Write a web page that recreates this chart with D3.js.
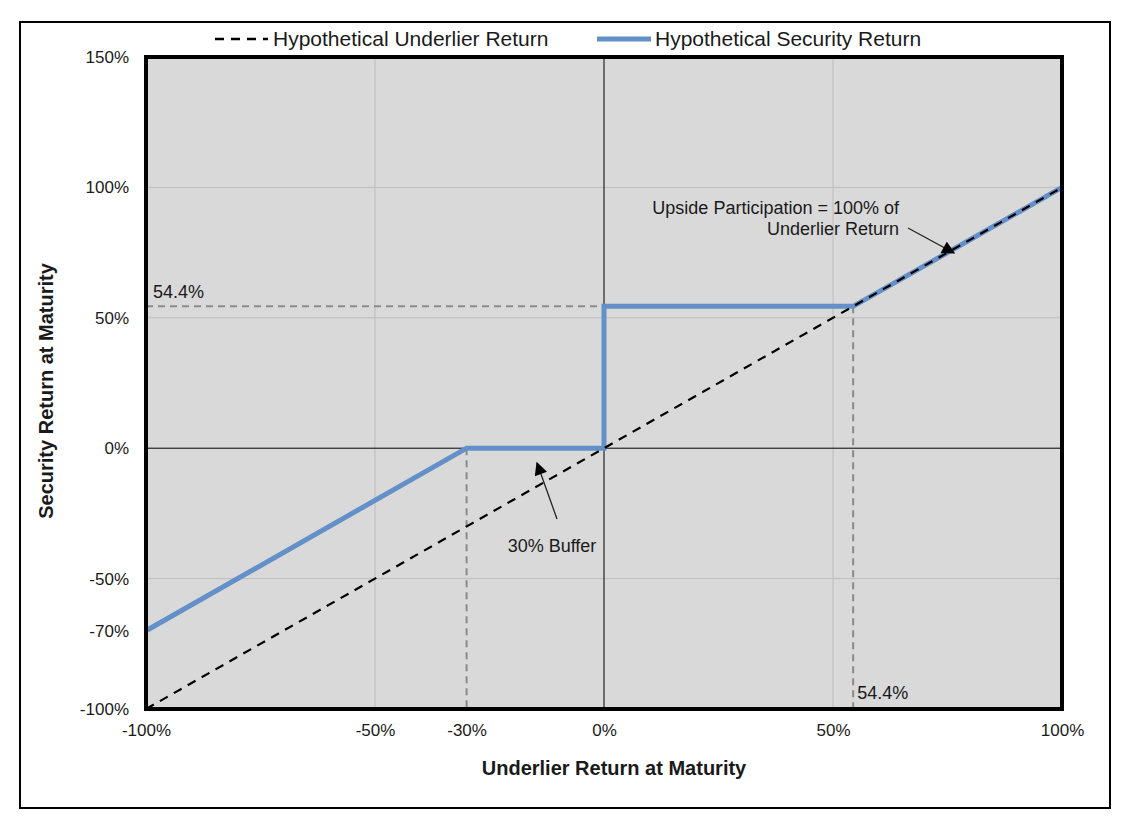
<!DOCTYPE html>
<html><head><meta charset="utf-8">
<script src="https://cdn.jsdelivr.net/npm/d3@7"></script>
<style>body{margin:0;background:#fff}svg{display:block}text{font-family:"Liberation Sans",Arial,sans-serif;fill:#1a1a1a}</style>
</head><body>
<script>
const xTicks = [-100, -50, -30, 0, 50, 100];
const yTicks = [-100, -70, -50, 0, 50, 100, 150];
const xGrid = [-50, 50];
const yGrid = [-50, 50, 100];
const underlierX = [-100, 100];
const underlierY = [-100, 100];
const securityX = [-100, -30, 0, 0, 54.4, 100];
const securityY = [-70, 0, 0, 54.4, 54.4, 100];
const capLevel = 54.4;
const bufferLevel = -30;
const seriesNames = ["Hypothetical Underlier Return", "Hypothetical Security Return"];

const W = 1125, H = 828;
const svg = d3.select("body").append("svg").attr("width", W).attr("height", H);
const L = 146, R = 1062, T = 57, B = 709;
const x = d3.scaleLinear().domain([-100, 100]).range([L, R]);
const y = d3.scaleLinear().domain([-100, 150]).range([B, T]);
const blue = "#6390C8";
const FONT = "Liberation Sans, Arial, sans-serif";

svg.append("rect").attr("x", 20).attr("y", 22).attr("width", 1090).attr("height", 786)
  .attr("fill", "#fff").attr("stroke", "#000").attr("stroke-width", 2);

svg.append("rect").attr("x", L).attr("y", T).attr("width", R - L).attr("height", B - T).attr("fill", "#d9d9d9");

const g = svg.append("g");
g.selectAll(".vg").data(xGrid).join("line").attr("x1", d => x(d)).attr("x2", d => x(d)).attr("y1", T).attr("y2", B)
  .attr("stroke", "#bdbdbd").attr("stroke-width", 1);
g.selectAll(".hg").data(yGrid).join("line").attr("y1", d => y(d)).attr("y2", d => y(d)).attr("x1", L).attr("x2", R)
  .attr("stroke", "#bdbdbd").attr("stroke-width", 1);
g.append("line").attr("x1", x(0)).attr("x2", x(0)).attr("y1", T).attr("y2", B).attr("stroke", "#000").attr("stroke-width", 1);
g.append("line").attr("y1", y(0)).attr("y2", y(0)).attr("x1", L).attr("x2", R).attr("stroke", "#000").attr("stroke-width", 1);

const refStyle = sel => sel.attr("stroke", "#8a8a8a").attr("stroke-width", 2).attr("stroke-dasharray", "7,5").attr("fill", "none");
g.append("line").attr("x1", x(-100)).attr("x2", x(0)).attr("y1", y(capLevel)).attr("y2", y(capLevel)).call(refStyle);
g.append("line").attr("x1", x(capLevel)).attr("x2", x(capLevel)).attr("y1", y(capLevel)).attr("y2", y(-100)).call(refStyle);
g.append("line").attr("x1", x(bufferLevel)).attr("x2", x(bufferLevel)).attr("y1", y(0)).attr("y2", y(-100)).call(refStyle);

const line = d3.line().x(d => x(d[0])).y(d => y(d[1]));
g.append("path").datum(securityX.map((v, i) => [v, securityY[i]])).attr("d", line)
  .attr("fill", "none").attr("stroke", blue).attr("stroke-width", 5).attr("stroke-linejoin", "miter");
g.append("path").datum(underlierX.map((v, i) => [v, underlierY[i]])).attr("d", line)
  .attr("fill", "none").attr("stroke", "#000").attr("stroke-width", 2.2).attr("stroke-dasharray", "9,7");

svg.append("rect").attr("x", L).attr("y", T).attr("width", R - L).attr("height", B - T)
  .attr("fill", "none").attr("stroke", "#000").attr("stroke-width", 4);

const fmt = d => d + "%";
const yAxis = svg.append("g").attr("transform", `translate(${L - 17},0)`)
  .call(d3.axisLeft(y).tickValues(yTicks).tickFormat(fmt).tickSize(0).tickPadding(0));
yAxis.select(".domain").remove();
yAxis.selectAll("text").attr("font-size", 17).attr("fill", "#1a1a1a").attr("font-family", FONT);
const xAxis = svg.append("g").attr("transform", `translate(0,${B + 15})`)
  .call(d3.axisBottom(x).tickValues(xTicks).tickFormat(fmt).tickSize(0).tickPadding(0));
xAxis.select(".domain").remove();
xAxis.selectAll("text").attr("font-size", 17).attr("fill", "#1a1a1a").attr("font-family", FONT);

svg.append("text").attr("x", x(0) + 10).attr("y", 775).attr("text-anchor", "middle").attr("font-size", 20).attr("font-weight", "bold").text("Underlier Return at Maturity");
svg.append("text").attr("transform", `translate(53,${(T + B) / 2 + 8}) rotate(-90)`).attr("text-anchor", "middle").attr("font-size", 20).attr("font-weight", "bold").text("Security Return at Maturity");

svg.append("text").attr("x", L + 7).attr("y", y(capLevel) - 8).attr("font-size", 18).text(capLevel + "%");
svg.append("text").attr("x", x(capLevel) + 4).attr("y", B - 10).attr("font-size", 18).text(capLevel + "%");

svg.append("defs").append("marker").attr("id", "ah").attr("viewBox", "0 0 10 10").attr("refX", 9).attr("refY", 5)
  .attr("markerWidth", 15).attr("markerHeight", 13).attr("markerUnits", "userSpaceOnUse").attr("orient", "auto")
  .append("path").attr("d", "M0,0 L10,5 L0,10 Z").attr("fill", "#000");

svg.append("text").attr("x", 899).attr("y", 214).attr("text-anchor", "end").attr("font-size", 18).text("Upside Participation = 100% of");
svg.append("text").attr("x", 899).attr("y", 235).attr("text-anchor", "end").attr("font-size", 18).text("Underlier Return");
svg.append("line").attr("x1", 908).attr("y1", 228).attr("x2", 954).attr("y2", 253).attr("stroke", "#222").attr("stroke-width", 1.3).attr("marker-end", "url(#ah)");

svg.append("text").attr("x", 552).attr("y", 552).attr("text-anchor", "middle").attr("font-size", 18).text("30% Buffer");
svg.append("line").attr("x1", 557).attr("y1", 519).attr("x2", 537).attr("y2", 463).attr("stroke", "#222").attr("stroke-width", 1.3).attr("marker-end", "url(#ah)");

const lg = svg.append("g");
lg.append("line").attr("x1", 215).attr("x2", 268).attr("y1", 39).attr("y2", 39).attr("stroke", "#000").attr("stroke-width", 2.5).attr("stroke-dasharray", "9,7");
lg.append("text").attr("x", 273).attr("y", 46).attr("font-size", 21).text(seriesNames[0]);
lg.append("line").attr("x1", 597).attr("x2", 651).attr("y1", 39).attr("y2", 39).attr("stroke", blue).attr("stroke-width", 5);
lg.append("text").attr("x", 655).attr("y", 46).attr("font-size", 21).text(seriesNames[1]);
</script>
</body></html>
